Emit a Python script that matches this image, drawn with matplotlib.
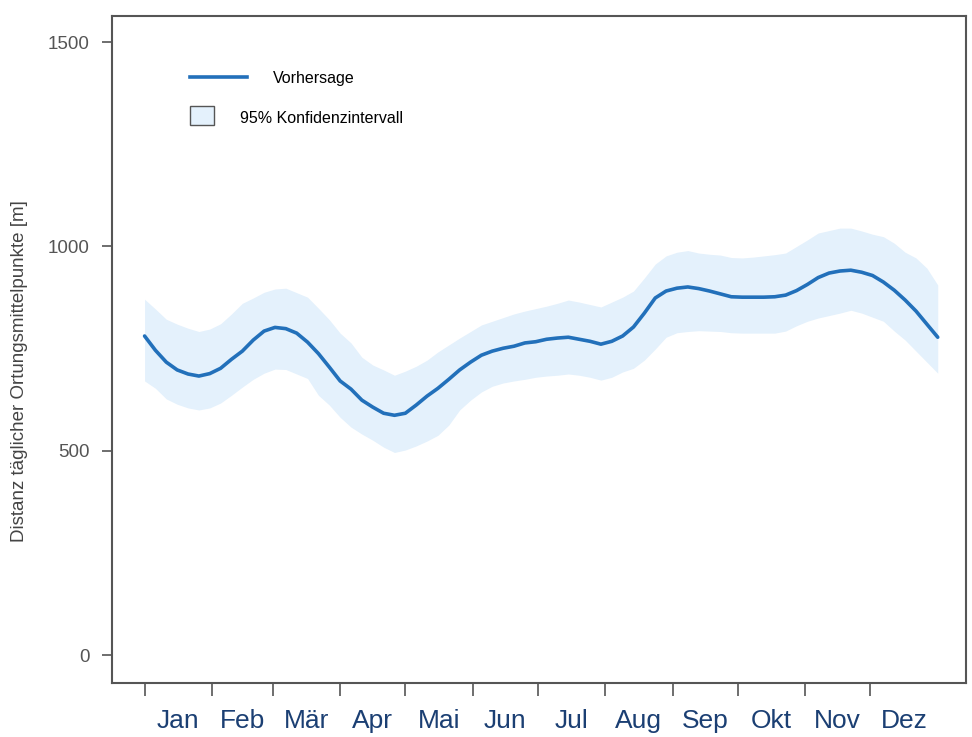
import numpy as np
import matplotlib
matplotlib.use("Agg")
import matplotlib.pyplot as plt
from matplotlib.patches import Patch, Rectangle
from matplotlib.lines import Line2D
from matplotlib.legend_handler import HandlerPatch

# day of year (0 = 1. Jan), read every 5 days off the picture
days = list(range(0, 366, 5))
pred = [781, 746, 717, 698, 688, 683, 689, 702, 724, 744,
        771, 793, 802, 799, 788, 766, 738, 705, 671, 651,
        624, 607, 592, 587, 592, 612, 634, 653, 675, 698,
        717, 734, 744, 751, 756, 764, 767, 773, 776, 778,
        773, 768, 761, 768, 781, 803, 837, 874, 891, 898,
        901, 897, 891, 884, 877, 876, 876, 876, 877, 881,
        892, 907, 924, 935, 940, 942, 937, 929, 913, 893,
        869, 842, 810, 778]
upper = [871, 847, 822, 810, 800, 792, 798, 811, 835, 861,
         874, 888, 896, 898, 887, 876, 849, 821, 788, 764,
         729, 710, 698, 685, 695, 707, 722, 742, 759, 776,
         792, 808, 817, 826, 835, 842, 848, 854, 861, 869,
         864, 858, 852, 864, 876, 891, 923, 957, 977, 986,
         990, 984, 981, 979, 973, 972, 974, 977, 980, 984,
         1000, 1016, 1033, 1039, 1045, 1045, 1038, 1030, 1024, 1008,
         986, 972, 947, 906]
lower = [671, 653, 627, 614, 605, 600, 605, 617, 636, 656,
         675, 690, 700, 699, 688, 677, 636, 612, 582, 558,
         541, 526, 509, 496, 502, 512, 524, 538, 563, 600,
         624, 644, 658, 666, 671, 675, 680, 683, 685, 688,
         685, 680, 673, 680, 693, 702, 722, 749, 778, 789,
         792, 794, 793, 792, 789, 788, 788, 788, 788, 793,
         806, 817, 825, 831, 837, 844, 837, 827, 817, 793,
         771, 744, 717, 690]

months = ["Jan", "Feb", "Mär", "Apr", "Mai", "Jun", "Jul", "Aug", "Sep", "Okt", "Nov", "Dez"]
month_len = [31, 28, 31, 30, 31, 30, 31, 31, 30, 31, 30, 31]

starts = np.concatenate([[0], np.cumsum(month_len)[:-1]])
mids = starts + np.array(month_len) / 2

line_col = "#2270ba"
band_col = "#e4f1fc"
frame_col = "#555555"
fonts = ["Liberation Sans Narrow", "Liberation Sans", "DejaVu Sans"]

fig = plt.figure(figsize=(9.72, 7.37), dpi=100)
ax = fig.add_axes([0.1152, 0.0733, 0.8786, 0.905])

ax.fill_between(days, lower, upper, color=band_col, linewidth=0)
ax.plot(days, pred, color=line_col, linewidth=2.6, solid_capstyle="round",
        solid_joinstyle="round")

ax.set_xlim(-15, 378)
ax.set_ylim(-68, 1564)

for s in ax.spines.values():
    s.set_color(frame_col)
    s.set_linewidth(1.5)

ax.set_yticks([0, 500, 1000, 1500])
ax.tick_params(axis="y", length=7, width=1.2, color=frame_col, labelcolor="#555555",
               labelsize=13.5, pad=9)
for lab in ax.get_yticklabels():
    lab.set_family(["Liberation Sans", "DejaVu Sans"])

# month boundaries as ticks, month names centered between them
ax.set_xticks(starts)
ax.set_xticklabels([])
ax.tick_params(axis="x", which="major", length=9, width=1.2, color=frame_col)
ax.set_xticks(mids, minor=True)
ax.set_xticklabels(months, minor=True, fontsize=19, color="#1b3f73",
                   family=["Liberation Sans", "DejaVu Sans"])
ax.tick_params(axis="x", which="minor", length=0, pad=19)

ax.set_ylabel("Distanz täglicher Ortungsmittelpunkte [m]", fontsize=13.5, color="#444444",
              family=["Liberation Sans", "DejaVu Sans"])
ax.yaxis.set_label_coords(-0.098, 0.468)


def small_box(legend, orig_handle, xdescent, ydescent, width, height, fontsize):
    return Rectangle((-xdescent, -ydescent - 2), 17, 14)


leg1 = ax.legend([Line2D([0], [0], color=line_col, linewidth=2.6)], ["Vorhersage"],
                 loc="center left", bbox_to_anchor=(0.082, 0.907), frameon=False,
                 borderpad=0, handlelength=3.6, handletextpad=1.6,
                 prop={"family": fonts, "size": 11.5})
ax.add_artist(leg1)
ax.legend([Patch(facecolor=band_col, edgecolor=frame_col, linewidth=1.0)],
          ["95% Konfidenzintervall"], loc="center left", bbox_to_anchor=(0.082, 0.847),
          frameon=False, borderpad=0, handlelength=2.0, handletextpad=1.1,
          handler_map={Patch: HandlerPatch(patch_func=small_box)},
          prop={"family": fonts, "size": 11.5})

fig.savefig("out.png", dpi=100)
